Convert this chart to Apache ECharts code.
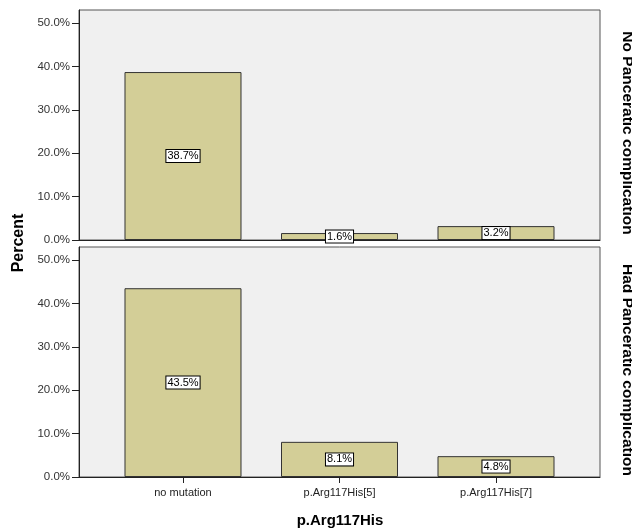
<!DOCTYPE html>
<html><head><meta charset="utf-8">
<script src="https://cdn.jsdelivr.net/npm/echarts@6/dist/echarts.min.js"></script>
<style>html,body{margin:0;padding:0;background:#fff}#c{width:632px;height:531px}</style>
</head><body><div id="c"></div>
<script>
const categories = ['no mutation', 'p.Arg117His[5]', 'p.Arg117His[7]'];
const noComplication = [38.7, 1.6, 3.2];
const hadComplication = [43.5, 8.1, 4.8];
const yTicks = [0, 10, 20, 30, 40, 50];
const panelTitles = ['No Panceratic complication', 'Had Panceratic complication'];
const yTitle = 'Percent';
const xTitle = 'p.Arg117His';

const font = 'Arial, "Liberation Sans", sans-serif';
const chart = echarts.init(document.getElementById('c'), null, {renderer: 'canvas'});
const catIdx = categories.map((_, i) => i);

function grid(top) {
  return {left: 79, top: top, width: 521, height: 230, show: true,
    backgroundColor: '#f0f0f0', borderColor: '#555', borderWidth: 1};
}
function xAxis(gi, showLabels) {
  return {type: 'value', gridIndex: gi, min: -0.6645, max: 2.6645,
    splitLine: {show: false},
    axisLine: {show: true, onZero: false, lineStyle: {color: '#222'}},
    axisTick: {show: showLabels, customValues: catIdx, length: 6, lineStyle: {color: '#222'}},
    axisLabel: {show: showLabels, customValues: catIdx,
      formatter: v => categories[Math.round(v)] || '',
      color: '#222', fontSize: 11, fontFamily: font, margin: 10}};
}
function yAxis(gi) {
  return {type: 'value', gridIndex: gi, min: 0, max: 53,
    splitLine: {show: false},
    axisLine: {show: true, onZero: false, lineStyle: {color: '#222'}},
    axisTick: {show: true, customValues: yTicks, length: 7, lineStyle: {color: '#222'}},
    axisLabel: {customValues: yTicks, formatter: v => v.toFixed(1) + '%',
      color: '#333', fontSize: 11.5, fontFamily: font, margin: 9}};
}
function series(gi, vals) {
  return {type: 'bar', xAxisIndex: gi, yAxisIndex: gi, barWidth: 117,
    data: vals.map((v, i) => [i, v]),
    itemStyle: {color: '#d3ce97', borderColor: '#333', borderWidth: 1},
    label: {show: true, position: 'inside',
      formatter: p => p.value[1].toFixed(1) + '%',
      color: '#000', fontSize: 11, fontFamily: font,
      backgroundColor: '#fff', borderColor: '#000', borderWidth: 1, padding: [1, 1, 0, 1]}};
}
function txt(text, x, y, rot, size) {
  return {type: 'text', x: x, y: y, rotation: rot,
    style: {text: text, font: 'bold ' + size + 'px Arial, "Liberation Sans", sans-serif',
      fill: '#000', textAlign: 'center', textVerticalAlign: 'middle', align: 'center', verticalAlign: 'middle'}};
}

chart.setOption({
  animation: false,
  backgroundColor: '#fff',
  grid: [grid(10), grid(247)],
  xAxis: [xAxis(0, false), xAxis(1, true)],
  yAxis: [yAxis(0), yAxis(1)],
  series: [series(0, noComplication), series(1, hadComplication)],
  graphic: [
    txt(yTitle, 19, 243, Math.PI / 2, 16),
    txt(xTitle, 340, 521, 0, 15),
    txt(panelTitles[0], 627, 133, -Math.PI / 2, 15.5),
    txt(panelTitles[1], 627, 370, -Math.PI / 2, 15.5)
  ]
});
</script>
</body></html>
